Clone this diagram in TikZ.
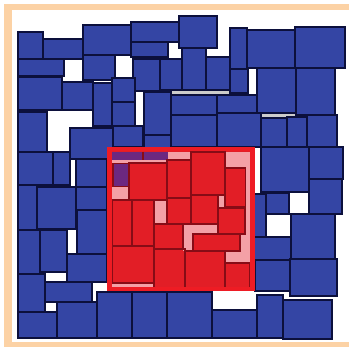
\documentclass[tikz,border=0pt]{standalone}
\definecolor{peach}{RGB}{252,210,165}
\definecolor{bfill}{RGB}{52,69,164}
\definecolor{bline}{RGB}{12,16,60}
\definecolor{rfill}{RGB}{226,30,38}
\definecolor{rframe}{RGB}{238,28,36}
\definecolor{rline}{RGB}{135,12,22}
\definecolor{pinkc}{RGB}{244,160,166}
\definecolor{purp}{RGB}{108,40,128}
\tikzset{
  br/.style={fill=bfill, draw=bline, line width=1.3pt},
  rr/.style={draw=rline, line width=1.1pt},
  pk/.style={fill=pinkc},
  pu/.style={fill=purp},
}
\newcommand\brect[4]{\draw[br] (#1,#2) rectangle (#3,#4);}
\newcommand\rrect[4]{\draw[rr] (#1,#2) rectangle (#3,#4);}
\newcommand\pkrect[4]{\fill[pk] (#1,#2) rectangle (#3,#4);}
\begin{document}
\begin{tikzpicture}[x=1pt,y=-1pt]
\useasboundingbox (0,0) rectangle (349,347);
\fill[white] (0,0) rectangle (349,347);
% peach frame
\fill[peach] (4,4) rectangle (12,347);
\fill[peach] (4,4) rectangle (349,10);
\fill[peach] (4,342.5) rectangle (349,347);
% gray slivers
\fill[gray!40] (171,91) rectangle (230,96);
\fill[gray!40] (262,114) rectangle (296,119);
% blue rectangles
\brect{18}{32}{43}{59}
\brect{43}{39}{83}{59}
\brect{83}{25}{131}{55}
\brect{131}{22}{179}{42}
\brect{131}{42}{168}{57}
\brect{179}{16}{217}{48}
\brect{18}{59}{64}{76}
\brect{83}{55}{115}{80}
\brect{133}{59}{160}{91}
\brect{160}{59}{182}{90}
\brect{182}{48}{206}{90}
\brect{206}{57}{230}{90}
\brect{230}{28}{247}{69}
\brect{247}{30}{295}{68}
\brect{295}{27}{345}{68}
\brect{230}{69}{248}{93}
\brect{257}{68}{296}{113}
\brect{296}{68}{335}{115}
\brect{18}{77}{62}{110}
\brect{62}{82}{93}{110}
\brect{93}{83}{112}{126}
\brect{112}{78}{135}{102}
\brect{112}{102}{135}{126}
\brect{144}{92}{171}{135}
\brect{171}{95}{217}{115}
\brect{217}{95}{257}{113}
\brect{171}{115}{217}{147}
\brect{217}{113}{261}{147}
\brect{261}{118}{287}{147}
\brect{287}{117}{307}{147}
\brect{307}{115}{337}{147}
\brect{261}{147}{309}{192}
\brect{309}{147}{343}{179}
\brect{309}{179}{342}{214}
\brect{254}{194}{266}{237}
\brect{266}{193}{289}{214}
\brect{291}{214}{335}{259}
\brect{254}{237}{291}{260}
\brect{255}{260}{290}{291}
\brect{290}{259}{337}{296}
\brect{167}{292}{212}{338}
\brect{212}{310}{257}{338}
\brect{257}{295}{283}{338}
\brect{283}{300}{332}{339}
\brect{18}{152}{53}{185}
\brect{53}{152}{70}{185}
\brect{76}{159}{107}{187}
\brect{18}{185}{37}{230}
\brect{37}{187}{76}{229}
\brect{76}{187}{107}{210}
\brect{77}{210}{107}{254}
\brect{18}{230}{40}{274}
\brect{40}{230}{67}{272}
\brect{67}{254}{107}{282}
\brect{18}{274}{45}{312}
\brect{45}{282}{92}{302}
\brect{57}{302}{97}{338}
\brect{18}{312}{57}{338}
\brect{97}{292}{132}{338}
\brect{132}{292}{167}{338}
\brect{18}{112}{47}{152}
\brect{70}{128}{113}{159}
\brect{113}{126}{143}{147}
\brect{144}{135}{171}{148}
% red region
\fill[rfill] (107,147) rectangle (254.5,291.5);
% purple
\fill[pu] (112,152) rectangle (168,160);
\draw[rr] (143,152) -- (143,160);
\draw[rr, fill=purp] (113,163) rectangle (129,187);
% pink
\pkrect{168}{152}{191}{160}
\pkrect{112}{160}{167}{163}
\pkrect{112}{187}{129}{200}
\pkrect{225}{152}{250}{168}
\pkrect{245.5}{168}{250}{236}
\pkrect{218}{195}{225}{208}
\pkrect{154}{200}{167}{224}
\pkrect{183}{224}{218}{234}
\pkrect{183}{234}{193}{251}
\pkrect{240}{234}{250}{251}
\pkrect{225}{251}{250}{263}
\pkrect{112}{283}{154}{288}
% red sub-rectangles
\rrect{129}{163}{167}{200}
\rrect{167}{160}{191}{198}
\rrect{191}{152}{225}{195}
\rrect{225}{168}{245.5}{207}
\rrect{112}{200}{132}{246}
\rrect{132}{200}{154}{246}
\rrect{167}{198}{191}{224}
\rrect{191}{195}{218}{224}
\rrect{218}{208}{245}{234}
\rrect{154}{224}{183}{249}
\rrect{193}{234}{240}{251}
\rrect{112}{246}{154}{283}
\rrect{154}{249}{185}{288}
\rrect{185}{251}{225}{288}
\rrect{225}{263}{250}{288}
% red frame
\draw[rframe, line width=4.5pt] (109.25,149.25) rectangle (252.25,289.25);
\end{tikzpicture}
\end{document}
